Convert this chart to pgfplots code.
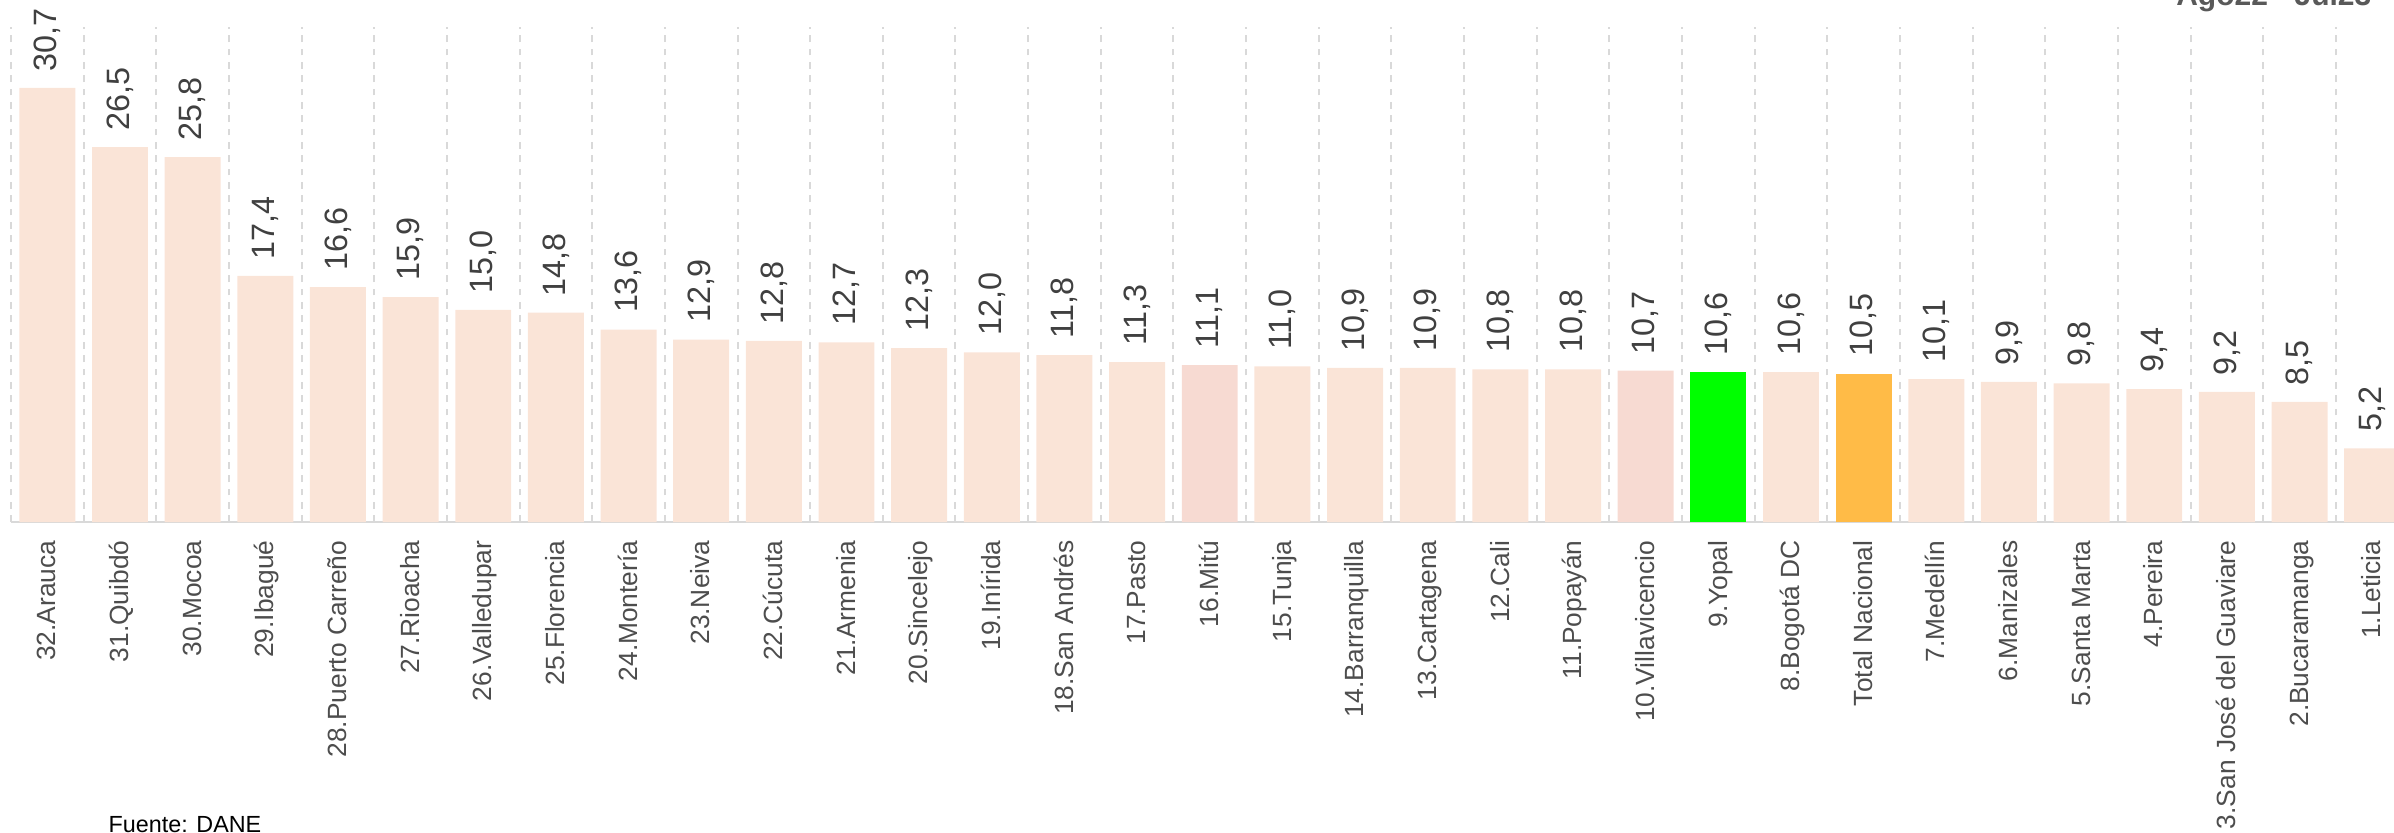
\documentclass[border=0pt]{standalone}
\usepackage{pgfplots}
\pgfplotsset{compat=1.18}
\usepackage{fontspec}
\setmainfont{Liberation Sans}
\definecolor{peach}{RGB}{250,228,215}
\definecolor{pinkb}{RGB}{247,218,210}
\definecolor{greenb}{RGB}{0,255,0}
\definecolor{orangeb}{RGB}{255,187,71}
\definecolor{gridc}{RGB}{217,217,217}
\definecolor{valc}{RGB}{64,64,64}
\definecolor{tickc}{RGB}{77,77,77}
\definecolor{titc}{RGB}{89,89,89}
\begin{document}
\begin{tikzpicture}
\useasboundingbox (0,0) rectangle (718.2pt,249.6pt);
\begin{axis}[
  at={(3.3pt,93pt)}, anchor=south west,
  scale only axis, width=714.9pt, height=148.5pt,
  xmin=-0.5, xmax=32.30, ymin=0, ymax=35,
  clip=false,
  axis y line=none,
  axis x line*=bottom,
  x axis line style={draw=gridc, line width=0.6pt},
  ybar, bar width=0.77, bar shift=0pt,
  xtick={0,...,32},
  xticklabels={32.Arauca,31.Quibdó,30.Mocoa,29.Ibagué,28.Puerto Carreño,27.Rioacha,26.Valledupar,25.Florencia,24.Montería,23.Neiva,22.Cúcuta,21.Armenia,20.Sincelejo,19.Inírida,18.San Andrés,17.Pasto,16.Mitú,15.Tunja,14.Barranquilla,13.Cartagena,12.Cali,11.Popayán,10.Villavicencio,9.Yopal,8.Bogotá DC,Total Nacional,7.Medellín,6.Manizales,5.Santa Marta,4.Pereira,3.San José del Guaviare,2.Bucaramanga,1.Leticia},
  xticklabel style={rotate=90, anchor=east, inner sep=0pt, text height=0.72em, text depth=0.2em, font=\fontsize{7.9}{8}\selectfont, text=tickc},
  xticklabel shift=5.4pt,
  major tick length=0pt, minor tick length=0pt,
  minor xtick={-0.5,0.5,...,32.5},
  xminorgrids=true,
  minor grid style={draw=gridc, line width=0.6pt, dash pattern=on 2pt off 2pt},
  ytick=\empty,
  nodes near coords,
  every node near coord/.append style={rotate=90, anchor=west, inner xsep=4.8pt, inner ysep=0pt, font=\fontsize{9.7}{10}\selectfont, text=valc},
  /pgf/number format/.cd, use comma, fixed, fixed zerofill, precision=1, assume math mode=true,
]
\addplot[fill=peach, draw=none] coordinates {
(0,30.7) (1,26.5) (2,25.8) (3,17.4) (4,16.6) (5,15.9) (6,15.0) (7,14.8) (8,13.6) (9,12.9) (10,12.8) (11,12.7) (12,12.3) (13,12.0) (14,11.8) (15,11.3) (17,11.0) (18,10.9) (19,10.9) (20,10.8) (21,10.8) (24,10.6) (26,10.1) (27,9.9) (28,9.8) (29,9.4) (30,9.2) (31,8.5) (32,5.2)};
\addplot[fill=pinkb, draw=none] coordinates {(16,11.1) (22,10.7)};
\addplot[fill=greenb, draw=none] coordinates {(23,10.6)};
\addplot[fill=orangeb, draw=none] coordinates {(25,10.5)};
\end{axis}
\node[anchor=base east, font=\bfseries\fontsize{9}{10}\selectfont, text=titc, inner sep=0pt] at (711.6pt,247.8pt) {Ago22 - Jul23};
\node[anchor=base west, font=\fontsize{7}{8}\selectfont, inner sep=0pt] at (32.4pt,0pt) {Fuente: DANE};
\end{tikzpicture}
\end{document}
